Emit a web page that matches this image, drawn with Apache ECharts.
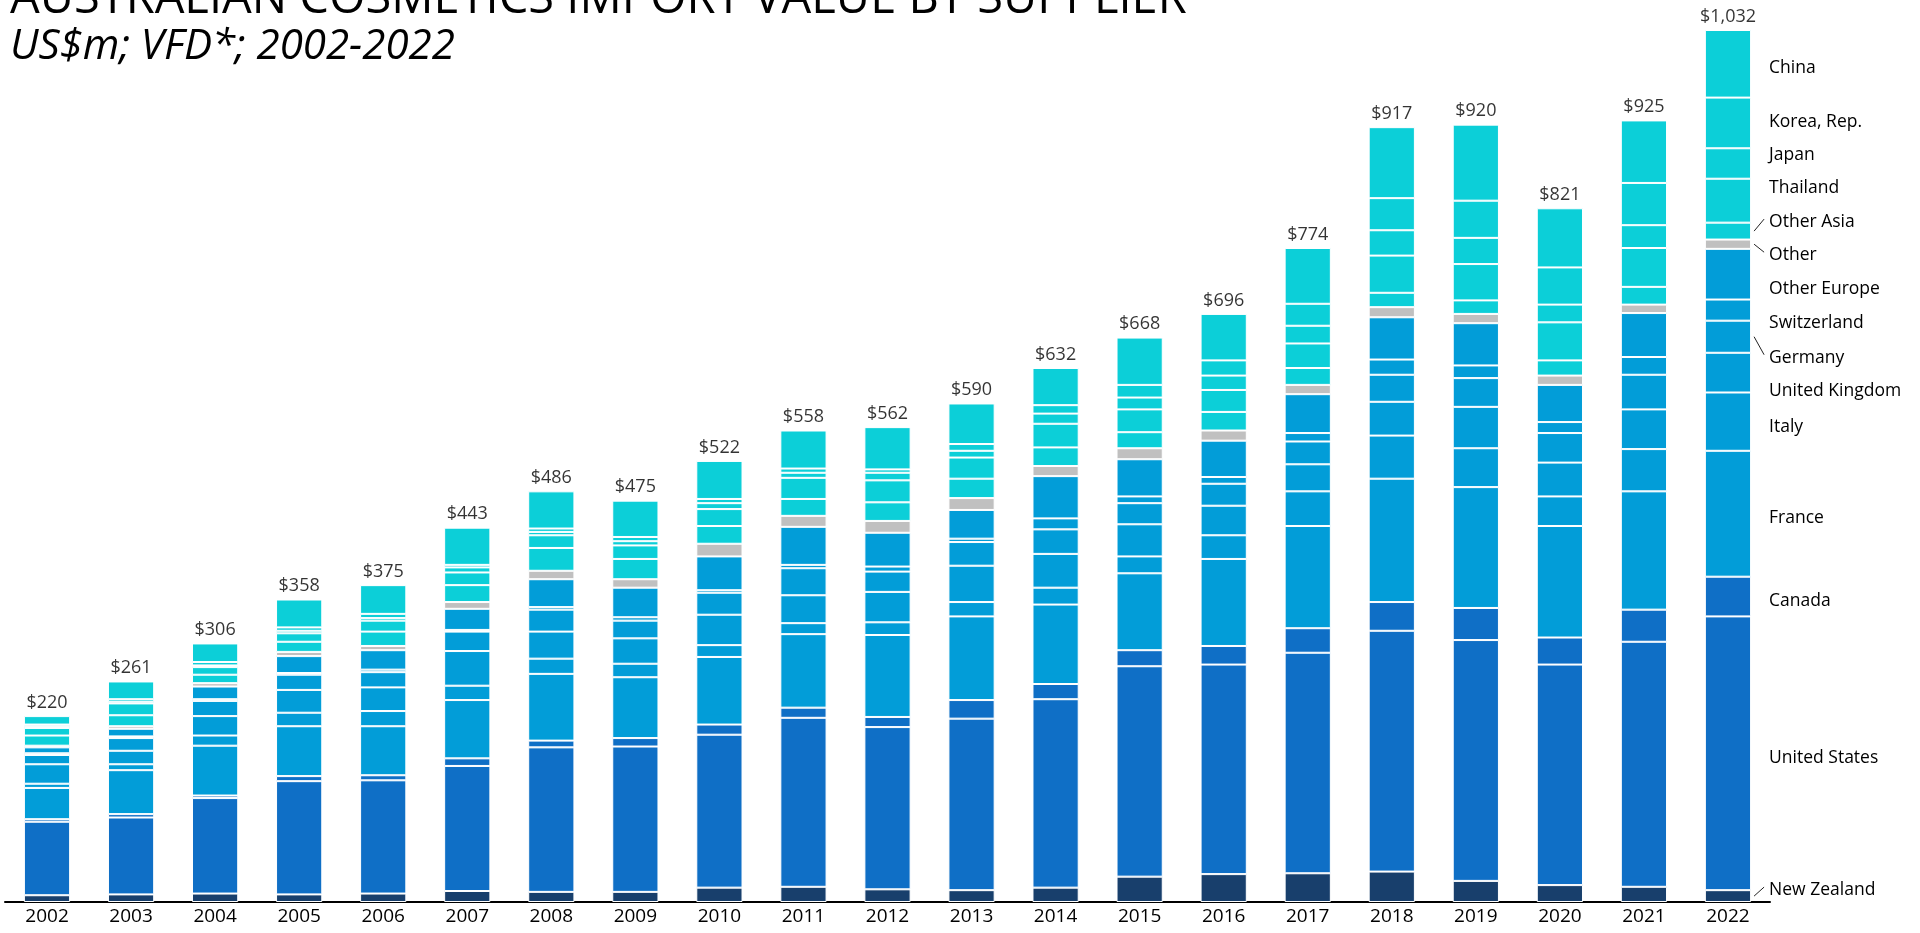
<!DOCTYPE html>
<html>
<head>
<meta charset="utf-8">
<script src="https://cdn.jsdelivr.net/npm/echarts@6/dist/echarts.min.js"></script>
<style>
html,body{margin:0;padding:0;background:#fff;overflow:hidden}
#chart{width:1920px;height:933px}
</style>
</head>
<body>
<div id="chart"></div>
<script>
// ---------- data (US$m) ----------
const years = ['2002','2003','2004','2005','2006','2007','2008','2009','2010','2011','2012','2013','2014','2015','2016','2017','2018','2019','2020','2021','2022'];
const totals = [220,261,306,358,375,443,486,475,522,558,562,590,632,668,696,774,917,920,821,925,1032];
const newZealand    = [8,9,10,9,10,13,12,12,17,18,15,14,17,30,33,34,36,25,20,18,14];
const unitedStates  = [87,91,113,134,134,148,171,172,181,200,192,203,223,249,248,261,285,285,261,290,324];
const canada        = [3,4,3,6,6,9,8,10,12,12,12,22,18,19,22,29,34,38,32,38,47];
const france        = [37,52,59,59,58,69,79,72,80,87,97,99,94,91,103,121,146,143,132,140,149];
const italy         = [5,7,12,16,18,17,18,16,14,13,15,17,20,20,28,41,51,46,35,50,69];
const unitedKingdom = [23,16,23,27,28,41,32,30,36,33,36,43,40,38,35,32,40,49,40,47,47];
const germany       = [11,15,18,18,18,23,26,21,26,32,24,28,29,25,26,27,32,34,35,41,38];
const switzerland   = [2,2,2,2,3,2,3,4,3,4,6,4,13,8,8,10,18,15,13,21,25];
const otherEurope   = [7,9,15,20,23,25,33,35,40,45,40,34,50,44,43,46,50,50,44,52,60];
const other         = [2,3,4,5,5,8,10,10,15,13,14,14,12,13,12,11,12,11,11,10,11];
const otherAsia     = [12,13,10,12,17,20,27,24,21,20,22,23,22,19,22,20,17,16,18,21,20];
const thailand      = [9,14,9,10,13,15,15,16,20,25,26,25,28,27,26,29,44,43,45,46,52];
const japan         = [2,2,2,3,3,6,4,5,7,6,9,8,12,14,17,21,30,31,21,27,36];
const korea         = [2,3,4,4,5,3,4,5,5,5,4,8,10,15,18,26,38,44,44,50,60];
const china         = [10,21,22,33,34,44,44,43,45,45,50,48,44,56,55,66,84,90,70,74,80];

// ---------- styles ----------
const NAVY = '#183f6c', BLUE = '#0f6fc6', MID = '#029dd8', GREY = '#c0c0c0', CYAN = '#0ccfd8';
const FONT = 'Open Sans';
const stackDefs = [
  ['New Zealand', newZealand, NAVY],
  ['United States', unitedStates, BLUE],
  ['Canada', canada, BLUE],
  ['France', france, MID],
  ['Italy', italy, MID],
  ['United Kingdom', unitedKingdom, MID],
  ['Germany', germany, MID],
  ['Switzerland', switzerland, MID],
  ['Other Europe', otherEurope, MID],
  ['Other', other, GREY],
  ['Other Asia', otherAsia, CYAN],
  ['Thailand', thailand, CYAN],
  ['Japan', japan, CYAN],
  ['Korea, Rep.', korea, CYAN],
  ['China', china, CYAN]
];
// vertical nudges of the end labels (px)
const labelShift = {
  'China': 4, 'Korea, Rep.': -0.5, 'Japan': -8, 'Thailand': -13, 'Other Asia': -9,
  'Other': 11, 'Other Europe': 15, 'Switzerland': 13, 'Germany': 21, 'United Kingdom': 18,
  'Italy': 5, 'France': 4, 'Canada': 4, 'United States': 5, 'New Zealand': -6
};
const leaders = ['Other Asia', 'Other', 'Germany', 'New Zealand'];
const BAR_RATIO = 0.55;
const last = years.length - 1;

const series = stackDefs.map(([name, values, color]) => ({
  name: name,
  type: 'bar',
  stack: 'all',
  barWidth: (BAR_RATIO * 100) + '%',
  itemStyle: { color: color, borderColor: '#ffffff', borderWidth: 1 },
  emphasis: { disabled: true },
  data: values.map((v, i) => i === last ? {
    value: v,
    label: {
      show: true, position: 'right', distance: 18,
      formatter: name, color: '#000', fontSize: 17.5, fontFamily: FONT
    }
  } : v),
  labelLayout: function (p) {
    if (p.dataIndex !== last) return {};
    return { dy: labelShift[name] || 0 };
  }
}));

series.push({
  name: 'Total',
  type: 'scatter',
  data: totals,
  symbolSize: 1,
  itemStyle: { color: 'rgba(0,0,0,0)' },
  silent: true,
  z: 5,
  label: {
    show: true, position: 'top', distance: 4,
    color: '#000', fontSize: 18, fontFamily: FONT,
    formatter: p => '$' + p.value.toLocaleString('en-US')
  }
});

const chart = echarts.init(document.getElementById('chart'), null, { renderer: 'canvas' });
chart.setOption({
  animation: false,
  backgroundColor: '#ffffff',
  title: [
    { text: 'AUSTRALIAN COSMETICS IMPORT VALUE BY SUPPLIER', left: 5, top: -29,
      textStyle: { fontFamily: FONT, fontSize: 47, fontWeight: 'normal', color: '#000' } },
    { text: 'US$m; VFD*; 2002-2022', left: 5, top: 21,
      textStyle: { fontFamily: FONT, fontSize: 42, fontStyle: 'italic', fontWeight: 'normal', color: '#000' } }
  ],
  grid: { left: 5, right: 150, top: 30, bottom: 31, containLabel: false },
  xAxis: {
    type: 'category',
    data: years,
    axisLine: { lineStyle: { color: '#000', width: 2 } },
    axisTick: { show: false },
    axisLabel: { color: '#000', fontSize: 19, fontFamily: FONT, margin: 5 },
    splitLine: { show: false }
  },
  yAxis: { type: 'value', min: 0, max: 'dataMax', show: false, splitLine: { show: false } },
  series: series
});

// leader lines for the shifted end labels
(function () {
  const x0 = chart.convertToPixel({ xAxisIndex: 0 }, years[0]);
  const x1 = chart.convertToPixel({ xAxisIndex: 0 }, years[1]);
  const xl = chart.convertToPixel({ xAxisIndex: 0 }, years[last]);
  const barRight = xl + (x1 - x0) * BAR_RATIO / 2;
  let cum = 0;
  const graphics = [];
  stackDefs.forEach(([name, values]) => {
    const mid = cum + values[last] / 2;
    cum += values[last];
    if (leaders.indexOf(name) < 0) return;
    const y = chart.convertToPixel({ yAxisIndex: 0 }, mid);
    graphics.push({
      type: 'line', silent: true,
      shape: { x1: barRight + 3, y1: y, x2: barRight + 13, y2: y + labelShift[name] - 3 },
      style: { stroke: '#222', lineWidth: 1 }
    });
  });
  chart.setOption({ graphic: graphics });
})();
</script>
</body>
</html>
